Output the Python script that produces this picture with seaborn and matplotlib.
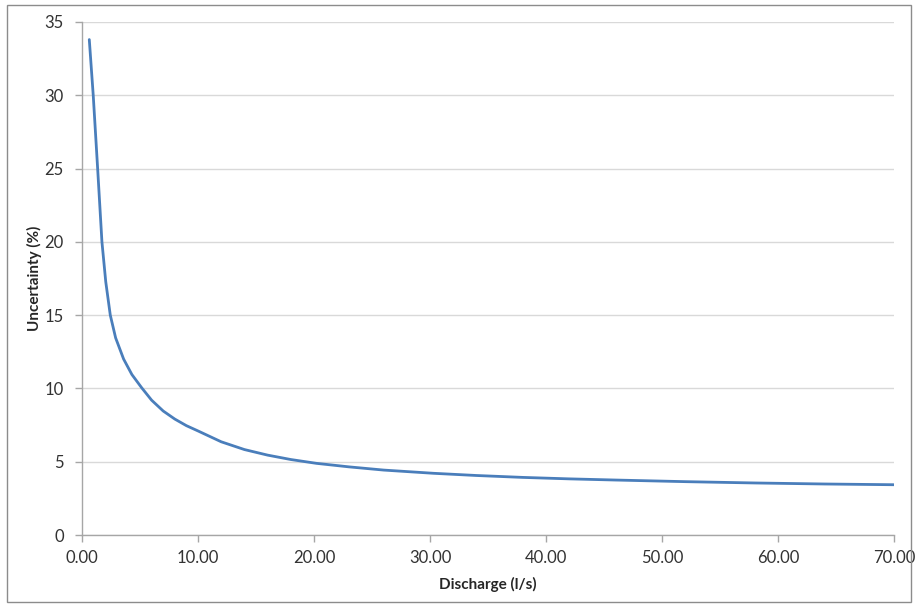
import matplotlib
matplotlib.use("Agg")
import matplotlib.pyplot as plt
import seaborn as sns
import pandas as pd
from matplotlib.patches import Rectangle
from matplotlib.ticker import FormatStrFormatter

discharge = [0.63, 0.97, 1.35, 1.72, 2.05, 2.44, 2.9, 3.59, 4.3, 5.14, 6.0,
             7.0, 8.0, 9.0, 10.0, 12.0, 14.0, 16.0, 18.0, 20.2, 23.0, 26.0,
             30.3, 34.0, 38.0, 42.0, 46.0, 52.0, 58.0, 64.0, 70.0]
uncertainty = [33.8, 30.0, 25.0, 20.0, 17.27, 15.0, 13.45, 12.0, 10.95, 10.05,
               9.2, 8.46, 7.91, 7.46, 7.1, 6.36, 5.83, 5.45, 5.15, 4.89, 4.65,
               4.43, 4.21, 4.06, 3.93, 3.83, 3.75, 3.64, 3.55, 3.48, 3.43]
x_ticks = [0, 10, 20, 30, 40, 50, 60, 70]
y_ticks = [0, 5, 10, 15, 20, 25, 30, 35]

df = pd.DataFrame({"Discharge": discharge, "Uncertainty": uncertainty})

sns.set_theme(style="white")
plt.rcParams['font.family'] = ['Lato', 'DejaVu Sans']

fig = plt.figure(figsize=(9.18, 6.07), dpi=100)
ax = fig.add_axes([0.0893, 0.1186, 0.8847, 0.8452])

sns.lineplot(data=df, x="Discharge", y="Uncertainty", color="#4a7ebb",
             linewidth=2, ax=ax)

ax.set_xlim(0, 70)
ax.set_ylim(0, 35)
ax.set_xticks(x_ticks)
ax.set_yticks(y_ticks)
ax.xaxis.set_major_formatter(FormatStrFormatter("%.2f"))
ax.yaxis.grid(True, color="#d9d9d9", linewidth=1)
ax.xaxis.grid(False)
ax.set_axisbelow(True)

for side in ["top", "right"]:
    ax.spines[side].set_visible(False)
for side in ["left", "bottom"]:
    ax.spines[side].set_color("#a6a6a6")
    ax.spines[side].set_linewidth(1)

ax.tick_params(axis="both", which="major", direction="out", length=5,
               width=1, color="#a6a6a6", labelsize=12, labelcolor="#333333",
               bottom=True, left=True)
ax.tick_params(axis="x", pad=6)
ax.tick_params(axis="y", pad=8)

ax.set_xlabel("Discharge (l/s)", fontsize=11, fontweight="bold", labelpad=8)
ax.set_ylabel("Uncertainty (%)", fontsize=11, fontweight="bold")
ax.yaxis.set_label_coords(-0.049, 0.5)

fig.patches.append(Rectangle((0.008, 0.008), 0.984, 0.984, transform=fig.transFigure,
                             fill=False, edgecolor="#8c8c8c", linewidth=1))

fig.savefig("out.png", dpi=100)
